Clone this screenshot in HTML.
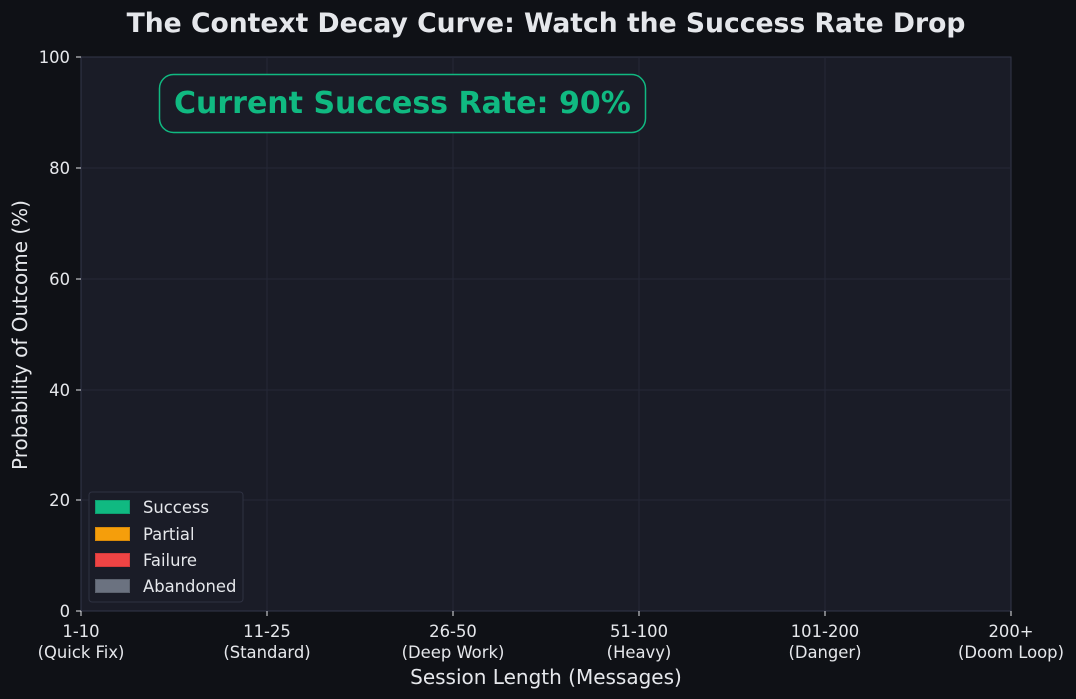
<!DOCTYPE html>
<html><head><meta charset="utf-8"><style>
html,body{margin:0;padding:0;background:#0f1116;}
svg{display:block;font-family:"DejaVu Sans","Liberation Sans",sans-serif;}
</style></head><body>
<svg width="1076" height="699" viewBox="0 0 1076 699" xmlns="http://www.w3.org/2000/svg">
<rect width="1076" height="699" fill="#0f1116"/>
<rect x="81" y="57" width="930" height="554" fill="#1a1c27" stroke="#33364a" stroke-width="1"/>
<g stroke="#252837" stroke-width="1">
<line x1="267" y1="57" x2="267" y2="611"/><line x1="453" y1="57" x2="453" y2="611"/>
<line x1="639" y1="57" x2="639" y2="611"/><line x1="825" y1="57" x2="825" y2="611"/>
<line x1="81" y1="168" x2="1011" y2="168"/><line x1="81" y1="279" x2="1011" y2="279"/>
<line x1="81" y1="390" x2="1011" y2="390"/><line x1="81" y1="500" x2="1011" y2="500"/>
</g>
<g stroke="#e5e7eb" stroke-width="1">
<line x1="76" y1="57" x2="81" y2="57"/><line x1="76" y1="168" x2="81" y2="168"/><line x1="76" y1="279" x2="81" y2="279"/><line x1="76" y1="390" x2="81" y2="390"/><line x1="76" y1="500" x2="81" y2="500"/><line x1="76" y1="611" x2="81" y2="611"/>
<line x1="81" y1="611" x2="81" y2="616"/><line x1="267" y1="611" x2="267" y2="616"/><line x1="453" y1="611" x2="453" y2="616"/><line x1="639" y1="611" x2="639" y2="616"/><line x1="825" y1="611" x2="825" y2="616"/><line x1="1011" y1="611" x2="1011" y2="616"/>
</g>
<g fill="#e5e7eb" font-size="16.4" text-anchor="end">
<text x="70" y="63">100</text><text x="70" y="174">80</text><text x="70" y="285">60</text><text x="70" y="396">40</text><text x="70" y="506">20</text><text x="70" y="617">0</text>
</g>
<g fill="#e5e7eb" font-size="16.4" text-anchor="middle">
<text x="81" y="637">1-10</text><text x="81" y="658">(Quick Fix)</text>
<text x="267" y="637">11-25</text><text x="267" y="658">(Standard)</text>
<text x="453" y="637">26-50</text><text x="453" y="658">(Deep Work)</text>
<text x="639" y="637">51-100</text><text x="639" y="658">(Heavy)</text>
<text x="825" y="637">101-200</text><text x="825" y="658">(Danger)</text>
<text x="1011" y="637">200+</text><text x="1011" y="658">(Doom Loop)</text>
</g>
<text x="546" y="684" fill="#e5e7eb" font-size="20" text-anchor="middle">Session Length (Messages)</text>
<text transform="translate(27,335) rotate(-90)" fill="#e5e7eb" font-size="20" text-anchor="middle">Probability of Outcome (%)</text>
<text x="546" y="32" fill="#e5e7eb" font-size="26.6" font-weight="bold" text-anchor="middle">The Context Decay Curve: Watch the Success Rate Drop</text>
<rect x="159.5" y="74.5" width="486" height="58" rx="14" fill="#1a1c27" stroke="#10b981" stroke-width="1.5"/>
<text x="174" y="113" fill="#10b981" font-size="30" font-weight="bold">Current Success Rate: 90%</text>
<rect x="89" y="492" width="154" height="110" rx="3" fill="#1a1c27" stroke="#2f3242" stroke-width="1"/>
<rect x="95.5" y="500.5" width="34" height="13" fill="#10b981" stroke="#0e9f70"/>
<rect x="95.5" y="527.5" width="34" height="13" fill="#f59e0b" stroke="#d98a08"/>
<rect x="95.5" y="553.5" width="34" height="13" fill="#ef4444" stroke="#d43b3b"/>
<rect x="95.5" y="579.5" width="34" height="13" fill="#6b7280" stroke="#5c626e"/>
<g fill="#e5e7eb" font-size="16.4">
<text x="143" y="513">Success</text><text x="143" y="540">Partial</text><text x="143" y="566">Failure</text><text x="143" y="592">Abandoned</text>
</g>
</svg>
</body></html>
